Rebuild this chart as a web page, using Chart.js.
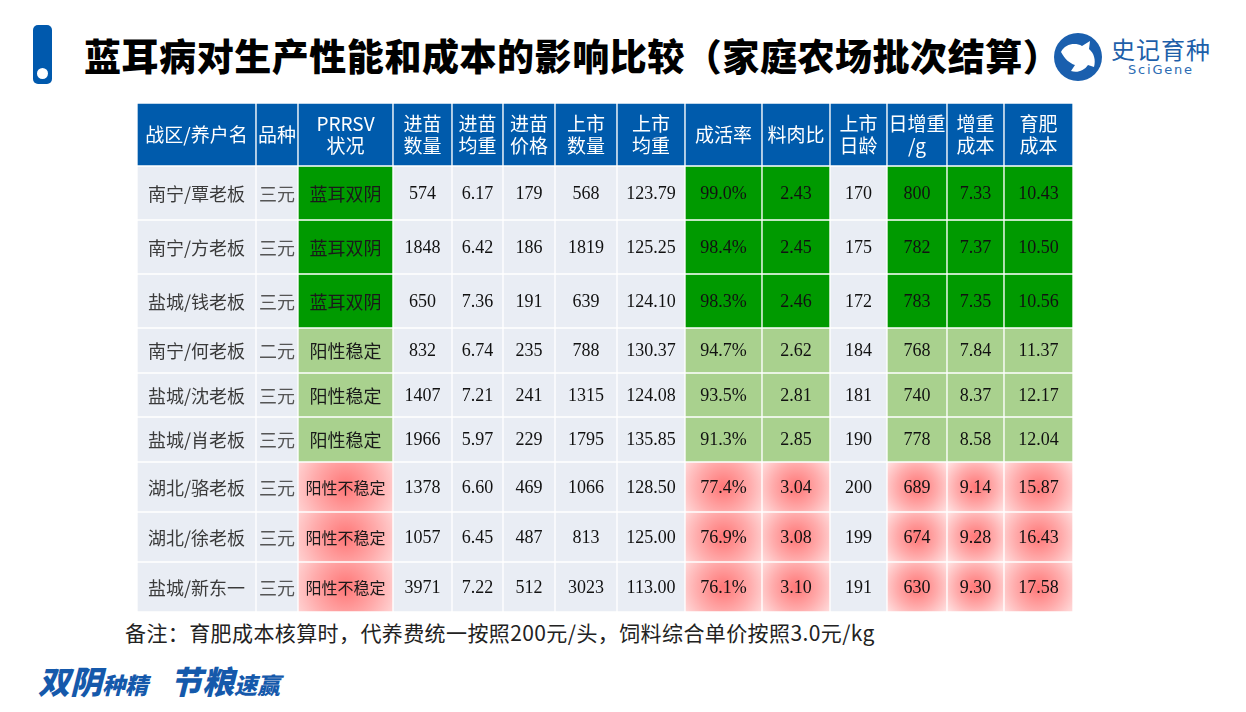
<!DOCTYPE html>
<html lang="zh-CN">
<head>
<meta charset="utf-8">
<title>蓝耳病对生产性能和成本的影响比较</title>
<script src="https://cdn.jsdelivr.net/npm/chart.js@4/dist/chart.umd.min.js"></script>
<style>
  body { margin: 0; width: 1246px; height: 712px; background: #fff; position: relative; overflow: hidden; font-family: "Noto Sans CJK SC", sans-serif; }
  .mark { position: absolute; left: 33px; top: 25px; width: 19px; height: 59px; background: #0059ad; border-radius: 5px; }
  .mark::after { content: ''; position: absolute; left: 4px; bottom: 5px; width: 11px; height: 11px; border-radius: 50%; background: #fff; }
  .title { position: absolute; left: 84px; top: 30px; font-size: 37px; font-weight: 900; color: #000; line-height: 50px; letter-spacing: 0.55px; white-space: nowrap; }
  .logo { position: absolute; left: 1053px; top: 30px; }
  .brand { position: absolute; left: 1111px; top: 34px; font-size: 24px; color: #1e5fa9; line-height: 30px; letter-spacing: 1px; white-space: nowrap; }
  .brand-en { position: absolute; left: 1128px; top: 63px; font-size: 13px; color: #2b6cb3; line-height: 14px; letter-spacing: 1.8px; font-family: "DejaVu Sans", sans-serif; }
  #wrap { position: absolute; left: 137px; top: 103px; width: 936px; height: 509px; }
  .note { position: absolute; left: 125px; top: 617px; font-size: 21px; color: #222; line-height: 30px; letter-spacing: 0.4px; white-space: nowrap; }
  .slogan { position: absolute; left: 38px; top: 658px; color: #1559ab; font-weight: 900; font-style: italic; white-space: nowrap; line-height: 44px; }
  .slogan .big { font-size: 32px; }
  .slogan .small { font-size: 23px; }
  .slogan .gap { display: inline-block; width: 22px; }
</style>
</head>
<body>
<div class="mark"></div>
<div class="title">蓝耳病对生产性能和成本的影响比较（家庭农场批次结算）</div>
<svg class="logo" width="50" height="54" viewBox="0 0 50 54">
  <circle cx="25" cy="27" r="24" fill="#1a5fae"/>
  <path d="M8 22 C12 14 22 12 29 16 L37 11 L36 19 C41 23 43 30 41 37 L35 35 C31 41 24 43 18 41 L22 35 C16 33 12 29 8 22 Z" fill="#fff"/>
</svg>
<div class="brand">史记育种</div>
<div class="brand-en">SciGene</div>
<div id="wrap"><canvas id="tabela"></canvas></div>
<div class="note">备注：育肥成本核算时，代养费统一按照200元/头，饲料综合单价按照3.0元/kg</div>
<div class="slogan"><span class="big">双阴</span><span class="small">种精</span><span class="gap"></span><span class="big">节粮</span><span class="small">速赢</span></div>

<script>
// dados da tabela
const cabecalhos = ['战区/养户名', '品种', 'PRRSV\n状况', '进苗\n数量', '进苗\n均重', '进苗\n价格', '上市\n数量', '上市\n均重', '成活率', '料肉比', '上市\n日龄', '日增重\n/g', '增重\n成本', '育肥\n成本'];
const nomes = ['南宁/覃老板', '南宁/方老板', '盐城/钱老板', '南宁/何老板', '盐城/沈老板', '盐城/肖老板', '湖北/骆老板', '湖北/徐老板', '盐城/新东一'];
const racas = ['三元', '三元', '三元', '二元', '三元', '三元', '三元', '三元', '三元'];
const prrsv = ['蓝耳双阴', '蓝耳双阴', '蓝耳双阴', '阳性稳定', '阳性稳定', '阳性稳定', '阳性不稳定', '阳性不稳定', '阳性不稳定'];
const entradaQtd = [574, 1848, 650, 832, 1407, 1966, 1378, 1057, 3971];
const entradaPeso = [6.17, 6.42, 7.36, 6.74, 7.21, 5.97, 6.60, 6.45, 7.22];
const entradaPreco = [179, 186, 191, 235, 241, 229, 469, 487, 512];
const saidaQtd = [568, 1819, 639, 788, 1315, 1795, 1066, 813, 3023];
const saidaPeso = [123.79, 125.25, 124.10, 130.37, 124.08, 135.85, 128.50, 125.00, 113.00];
const sobrevivencia = [99.0, 98.4, 98.3, 94.7, 93.5, 91.3, 77.4, 76.9, 76.1];
const conversao = [2.43, 2.45, 2.46, 2.62, 2.81, 2.85, 3.04, 3.08, 3.10];
const idadeSaida = [170, 175, 172, 184, 181, 190, 200, 199, 191];
const ganhoDiario = [800, 782, 783, 768, 740, 778, 689, 674, 630];
const custoGanho = [7.33, 7.37, 7.35, 7.84, 8.37, 8.58, 9.14, 9.28, 9.30];
const custoEngorda = [10.43, 10.50, 10.56, 11.37, 12.17, 12.04, 15.87, 16.43, 17.58];

// layout (px)
const bordasCol = [0, 119, 161, 256, 315, 366, 418, 480, 548, 625, 693, 750, 810, 867, 936];
const bordasLin = [0, 63, 117, 171, 225, 270, 314, 359, 409, 459, 509];
const colunasMarcadas = [2, 8, 9, 11, 12, 13];

const linhas = nomes.map((n, i) => [
    n, racas[i], prrsv[i],
    String(entradaQtd[i]), entradaPeso[i].toFixed(2), String(entradaPreco[i]),
    String(saidaQtd[i]), saidaPeso[i].toFixed(2), sobrevivencia[i].toFixed(1) + '%',
    conversao[i].toFixed(2), String(idadeSaida[i]), String(ganhoDiario[i]),
    custoGanho[i].toFixed(2), custoEngorda[i].toFixed(2)
]);
const tabela = [cabecalhos].concat(linhas);

function corCelula(ctx, r, c) {
    if (r === 0) return '#005bac';
    if (!colunasMarcadas.includes(c)) return '#e9edf4';
    const status = prrsv[r - 1];
    if (status === '蓝耳双阴') return '#009a00';
    if (status === '阳性稳定') return '#a9d18e';
    const { x, y } = ctx.chart.scales;
    const x0 = x.getPixelForValue(bordasCol[c]), x1 = x.getPixelForValue(bordasCol[c + 1]);
    const y0 = y.getPixelForValue(bordasLin[r]), y1 = y.getPixelForValue(bordasLin[r + 1]);
    const cx = (x0 + x1) / 2, cy = (y0 + y1) / 2;
    const raio = Math.max(Math.abs(x1 - x0), Math.abs(y1 - y0)) * 0.62;
    const g = ctx.chart.ctx.createRadialGradient(cx, cy, 0, cx, cy, raio);
    g.addColorStop(0, 'rgb(255,118,118)');
    g.addColorStop(0.55, 'rgb(255,172,172)');
    g.addColorStop(1, 'rgb(255,222,222)');
    return g;
}

const datasets = tabela.map((_, r) => ({
    data: bordasCol.slice(0, -1).map((e, c) => ({ x: [bordasCol[c], bordasCol[c + 1]], y: (bordasLin[r] + bordasLin[r + 1]) / 2 })),
    barThickness: bordasLin[r + 1] - bordasLin[r],
    grouped: false,
    backgroundColor: ctx => corCelula(ctx, r, ctx.dataIndex),
    borderColor: '#ffffff',
    borderWidth: 1,
    borderSkipped: false
}));

const textoCelulas = {
    id: 'textoCelulas',
    afterDatasetsDraw(chart) {
        const ctx = chart.ctx;
        ctx.save();
        ctx.textAlign = 'center';
        ctx.textBaseline = 'middle';
        tabela.forEach((celulas, r) => {
            const meta = chart.getDatasetMeta(r);
            celulas.forEach((txt, c) => {
                const p = meta.data[c].getCenterPoint();
                if (r === 0) {
                    ctx.fillStyle = '#ffffff';
                    ctx.font = '19px "Noto Sans CJK SC"';
                    const partes = txt.split('\n');
                    partes.forEach((t, k) => {
                        ctx.fillText(t, p.x, p.y + (k - (partes.length - 1) / 2) * 22);
                    });
                    return;
                }
                if (c === 0) { ctx.font = '18px "Noto Sans CJK SC"'; ctx.fillStyle = '#3a3a3a'; }
                else if (c === 1) { ctx.font = '18px "Noto Sans CJK SC"'; ctx.fillStyle = '#555555'; }
                else if (c === 2) {
                    ctx.font = (txt.length > 4 ? '16px' : '18px') + ' "Noto Sans CJK SC"';
                    ctx.fillStyle = '#1a1a1a';
                }
                else { ctx.font = '18px "Liberation Serif"'; ctx.fillStyle = '#111111'; }
                ctx.fillText(txt, p.x, p.y + 1);
            });
        });
        ctx.restore();
    }
};

new Chart(document.getElementById('tabela'), {
    type: 'bar',
    data: { datasets: datasets },
    options: {
        indexAxis: 'y',
        responsive: true,
        maintainAspectRatio: false,
        animation: false,
        events: [],
        layout: { padding: 0 },
        plugins: { legend: { display: false }, tooltip: { enabled: false } },
        scales: {
            x: { type: 'linear', min: 0, max: bordasCol[bordasCol.length - 1], display: false },
            y: { type: 'linear', min: 0, max: bordasLin[bordasLin.length - 1], reverse: true, offset: false, display: false }
        }
    },
    plugins: [textoCelulas]
});
</script>
</body>
</html>
